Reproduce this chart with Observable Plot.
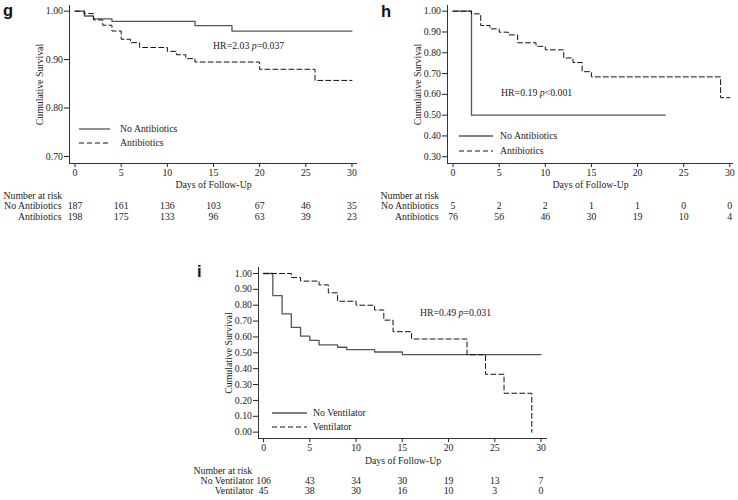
<!DOCTYPE html>
<html><head><meta charset="utf-8">
<script src="https://cdn.jsdelivr.net/npm/d3@7"></script>
<script src="https://cdn.jsdelivr.net/npm/@observablehq/plot@0.6"></script>
<style>
body{margin:0;background:#fff;}
#wrap{position:relative;width:738px;height:500px;overflow:hidden;background:#fff;}
#wrap svg{position:absolute;}
</style></head><body><div id="wrap"></div>
<script>
// ---------- shared ----------
const xTicks = [0, 5, 10, 15, 20, 25, 30];
const riskDays = [0, 5, 10, 15, 20, 25, 30];

// ---------- panel g ----------
const gNoAbxT = [0, 1, 2, 4, 13, 17, 30];
const gNoAbxS = [1, 0.990, 0.984, 0.979, 0.970, 0.959, 0.959];
const gAbxT = [0, 1, 2, 3, 4, 5, 6, 7, 10, 11, 12, 13, 20, 26, 30];
const gAbxS = [1, 0.995, 0.982, 0.971, 0.959, 0.942, 0.935, 0.925, 0.917, 0.910, 0.902, 0.895, 0.880, 0.857, 0.857];
const gRiskNoAbx = [187, 161, 136, 103, 67, 46, 35];
const gRiskAbx = [198, 175, 133, 96, 63, 39, 23];
const gYTicks = [0.70, 0.80, 0.90, 1.00];
const gLabels = ["No Antibiotics", "Antibiotics"];
const gHR = "HR=2.03 p=0.037";

// ---------- panel h ----------
const hNoAbxT = [0, 2, 23];
const hNoAbxS = [1, 0.50, 0.50];
const hAbxT = [0, 2, 3, 4, 5, 6, 7, 9, 10, 12, 13, 14, 15, 29, 30];
const hAbxS = [1, 0.987, 0.931, 0.915, 0.899, 0.886, 0.848, 0.831, 0.814, 0.775, 0.753, 0.709, 0.684, 0.584, 0.584];
const hRiskNoAbx = [5, 2, 2, 1, 1, 0, 0];
const hRiskAbx = [76, 56, 46, 30, 19, 10, 4];
const hYTicks = [0.30, 0.40, 0.50, 0.60, 0.70, 0.80, 0.90, 1.00];
const hLabels = ["No Antibiotics", "Antibiotics"];
const hHR = "HR=0.19 p<0.001";

// ---------- panel i ----------
const iNoVentT = [0, 1, 2, 3, 4, 5, 6, 8, 9, 12, 15, 30];
const iNoVentS = [1, 0.860, 0.745, 0.660, 0.605, 0.578, 0.550, 0.535, 0.520, 0.505, 0.488, 0.488];
const iVentT = [0, 3, 4, 6, 7, 8, 10, 12, 13, 14, 16, 22, 24, 26, 29];
const iVentS = [1, 0.975, 0.952, 0.928, 0.878, 0.825, 0.800, 0.770, 0.706, 0.633, 0.587, 0.488, 0.365, 0.245, 0];
const iRiskNoVent = [106, 43, 34, 30, 19, 13, 7];
const iRiskVent = [45, 38, 30, 16, 10, 3, 0];
const iYTicks = [0.00, 0.10, 0.20, 0.30, 0.40, 0.50, 0.60, 0.70, 0.80, 0.90, 1.00];
const iLabels = ["No Ventilator", "Ventilator"];
const iHR = "HR=0.49 p=0.031";

const SERIF = "'Liberation Serif','Times New Roman',serif";
const SANS = "'Liberation Sans',Arial,sans-serif";
const FS = "9.8px";
const SOLID = "#555";
const DASH = "#111";
const DASHARRAY = "5,3";

const wrap = document.getElementById("wrap");

function toRows(T, S) { return T.map((t, i) => ({t, s: S[i]})); }

function panel(c) {
  const mB = c.height - c.frameBottom;
  const plot = Plot.plot({
    width: c.width, height: c.height,
    marginLeft: c.mL, marginRight: c.mR, marginTop: c.mT, marginBottom: mB,
    x: {domain: c.xDomain},
    y: {domain: c.yDomain},
    style: {fontFamily: SERIF, fontSize: FS, color: "#222", background: "transparent", overflow: "visible"},
    marks: [
      Plot.axisY({ticks: c.yTicks, tickFormat: d3.format(".2f"), tickSize: 5, tickPadding: 1.5,
        label: "Cumulative Survival", labelAnchor: "center", labelArrow: "none", labelOffset: 33}),
      Plot.axisX({ticks: xTicks, tickSize: 4, tickPadding: 1.5,
        label: "Days of Follow-Up", labelAnchor: "center", labelArrow: "none", labelOffset: c.xLabelOffset}),
      Plot.ruleX([c.xDomain[0]], {stroke: "#333"}),
      Plot.ruleY([c.yDomain[0]], {stroke: "#333"}),
      Plot.line(toRows(c.solidT, c.solidS), {x: "t", y: "s", curve: "step-after", stroke: SOLID, strokeWidth: 1.3}),
      Plot.line(toRows(c.dashT, c.dashS), {x: "t", y: "s", curve: "step-after", stroke: DASH, strokeWidth: 1, strokeDasharray: DASHARRAY}),
      Plot.text([c.hr], {x: c.hrX, y: c.hrY, textAnchor: "start"}),
      Plot.text(["Number at risk"], {frameAnchor: "bottom-left", dx: c.narDx, dy: c.narDy, textAnchor: "start"}),
      Plot.text([c.labels[0]], {frameAnchor: "bottom-left", dx: c.rowDx, dy: c.row1Dy, textAnchor: "end"}),
      Plot.text([c.labels[1]], {frameAnchor: "bottom-left", dx: c.rowDx, dy: c.row2Dy, textAnchor: "end"}),
      Plot.text(c.risk1, {x: riskDays, text: d => d, frameAnchor: "bottom", dy: c.row1Dy}),
      Plot.text(c.risk2, {x: riskDays, text: d => d, frameAnchor: "bottom", dy: c.row2Dy})
    ]
  });
  plot.style.left = c.left + "px";
  plot.style.top = c.top + "px";
  // italic p in HR annotation
  plot.querySelectorAll("text").forEach(el => {
    if (el.textContent === c.hr) {
      const m = c.hr.match(/^(.*)(p)([=<].*)$/);
      while (el.firstChild) el.removeChild(el.firstChild);
      const ns = "http://www.w3.org/2000/svg";
      [[m[1], false], [m[2], true], [m[3], false]].forEach(([s, it]) => {
        const ts = document.createElementNS(ns, "tspan");
        ts.textContent = s;
        if (it) ts.setAttribute("font-style", "italic");
        el.appendChild(ts);
      });
    }
  });
  wrap.appendChild(plot);
}

panel({left: 0, top: 0, width: 370, height: 225, mL: 69, mR: 13, mT: 5, frameBottom: 163,
  xDomain: [-0.6, 30.6], yDomain: [0.6855, 1.0117], yTicks: gYTicks,
  solidT: gNoAbxT, solidS: gNoAbxS, dashT: gAbxT, dashS: gAbxS,
  hr: gHR, hrX: 14.95, hrY: 0.929, labels: gLabels, risk1: gRiskNoAbx, risk2: gRiskAbx,
  xLabelOffset: 24, narDx: -66, narDy: 35, rowDx: -8, row1Dy: 45.5, row2Dy: 56.5});

panel({left: 370, top: 0, width: 368, height: 225, mL: 77, mR: 5, mT: 5, frameBottom: 163,
  xDomain: [-0.6, 30.4], yDomain: [0.2675, 1.0273], yTicks: hYTicks,
  solidT: hNoAbxT, solidS: hNoAbxS, dashT: hAbxT, dashS: hAbxS,
  hr: hHR, hrX: 5.2, hrY: 0.605, labels: hLabels, risk1: hRiskNoAbx, risk2: hRiskAbx,
  xLabelOffset: 24, narDx: -67, narDy: 35, rowDx: -9, row1Dy: 45.5, row2Dy: 56.5});

panel({left: 180, top: 250, width: 380, height: 250, mL: 78, mR: 13, mT: 17, frameBottom: 188,
  xDomain: [-0.55, 30.7], yDomain: [-0.04, 1.0377], yTicks: iYTicks,
  solidT: iNoVentT, solidS: iNoVentS, dashT: iVentT, dashS: iVentS,
  hr: iHR, hrX: 16.9, hrY: 0.753, labels: iLabels, risk1: iRiskNoVent, risk2: iRiskVent,
  xLabelOffset: 25, narDx: -65, narDy: 35.5, rowDx: -5, row1Dy: 45, row2Dy: 55.5});

// overlay: panel letters and legends
const ov = d3.select(wrap).append("svg").attr("width", 738).attr("height", 500)
  .style("left", "0px").style("top", "0px").style("pointer-events", "none");
const letters = [{t: "g", x: 3, y: 16}, {t: "h", x: 381, y: 16.7}, {t: "i", x: 197, y: 276.5}];
ov.selectAll("text.letter").data(letters).join("text").attr("class", "letter")
  .attr("x", d => d.x).attr("y", d => d.y).text(d => d.t)
  .attr("font-family", SANS).attr("font-weight", "bold").attr("font-size", "16.5px").attr("fill", "#111");

const legends = [
  {x1: 79, x2: 110, tx: 120, y1: 129, y2: 143, labels: gLabels},
  {x1: 459, x2: 493, tx: 500, y1: 136, y2: 151, labels: hLabels},
  {x1: 272, x2: 307, tx: 313, y1: 413, y2: 427, labels: iLabels}
];
legends.forEach(L => {
  ov.append("line").attr("x1", L.x1).attr("x2", L.x2).attr("y1", L.y1).attr("y2", L.y1)
    .attr("stroke", SOLID).attr("stroke-width", 1.3);
  ov.append("line").attr("x1", L.x1).attr("x2", L.x2).attr("y1", L.y2).attr("y2", L.y2)
    .attr("stroke", DASH).attr("stroke-width", 1).attr("stroke-dasharray", DASHARRAY);
  [[L.labels[0], L.y1], [L.labels[1], L.y2]].forEach(([t, y]) => {
    ov.append("text").attr("x", L.tx).attr("y", y).attr("dy", "0.35em").text(t)
      .attr("font-family", SERIF).attr("font-size", FS).attr("fill", "#222");
  });
});
</script></body></html>
